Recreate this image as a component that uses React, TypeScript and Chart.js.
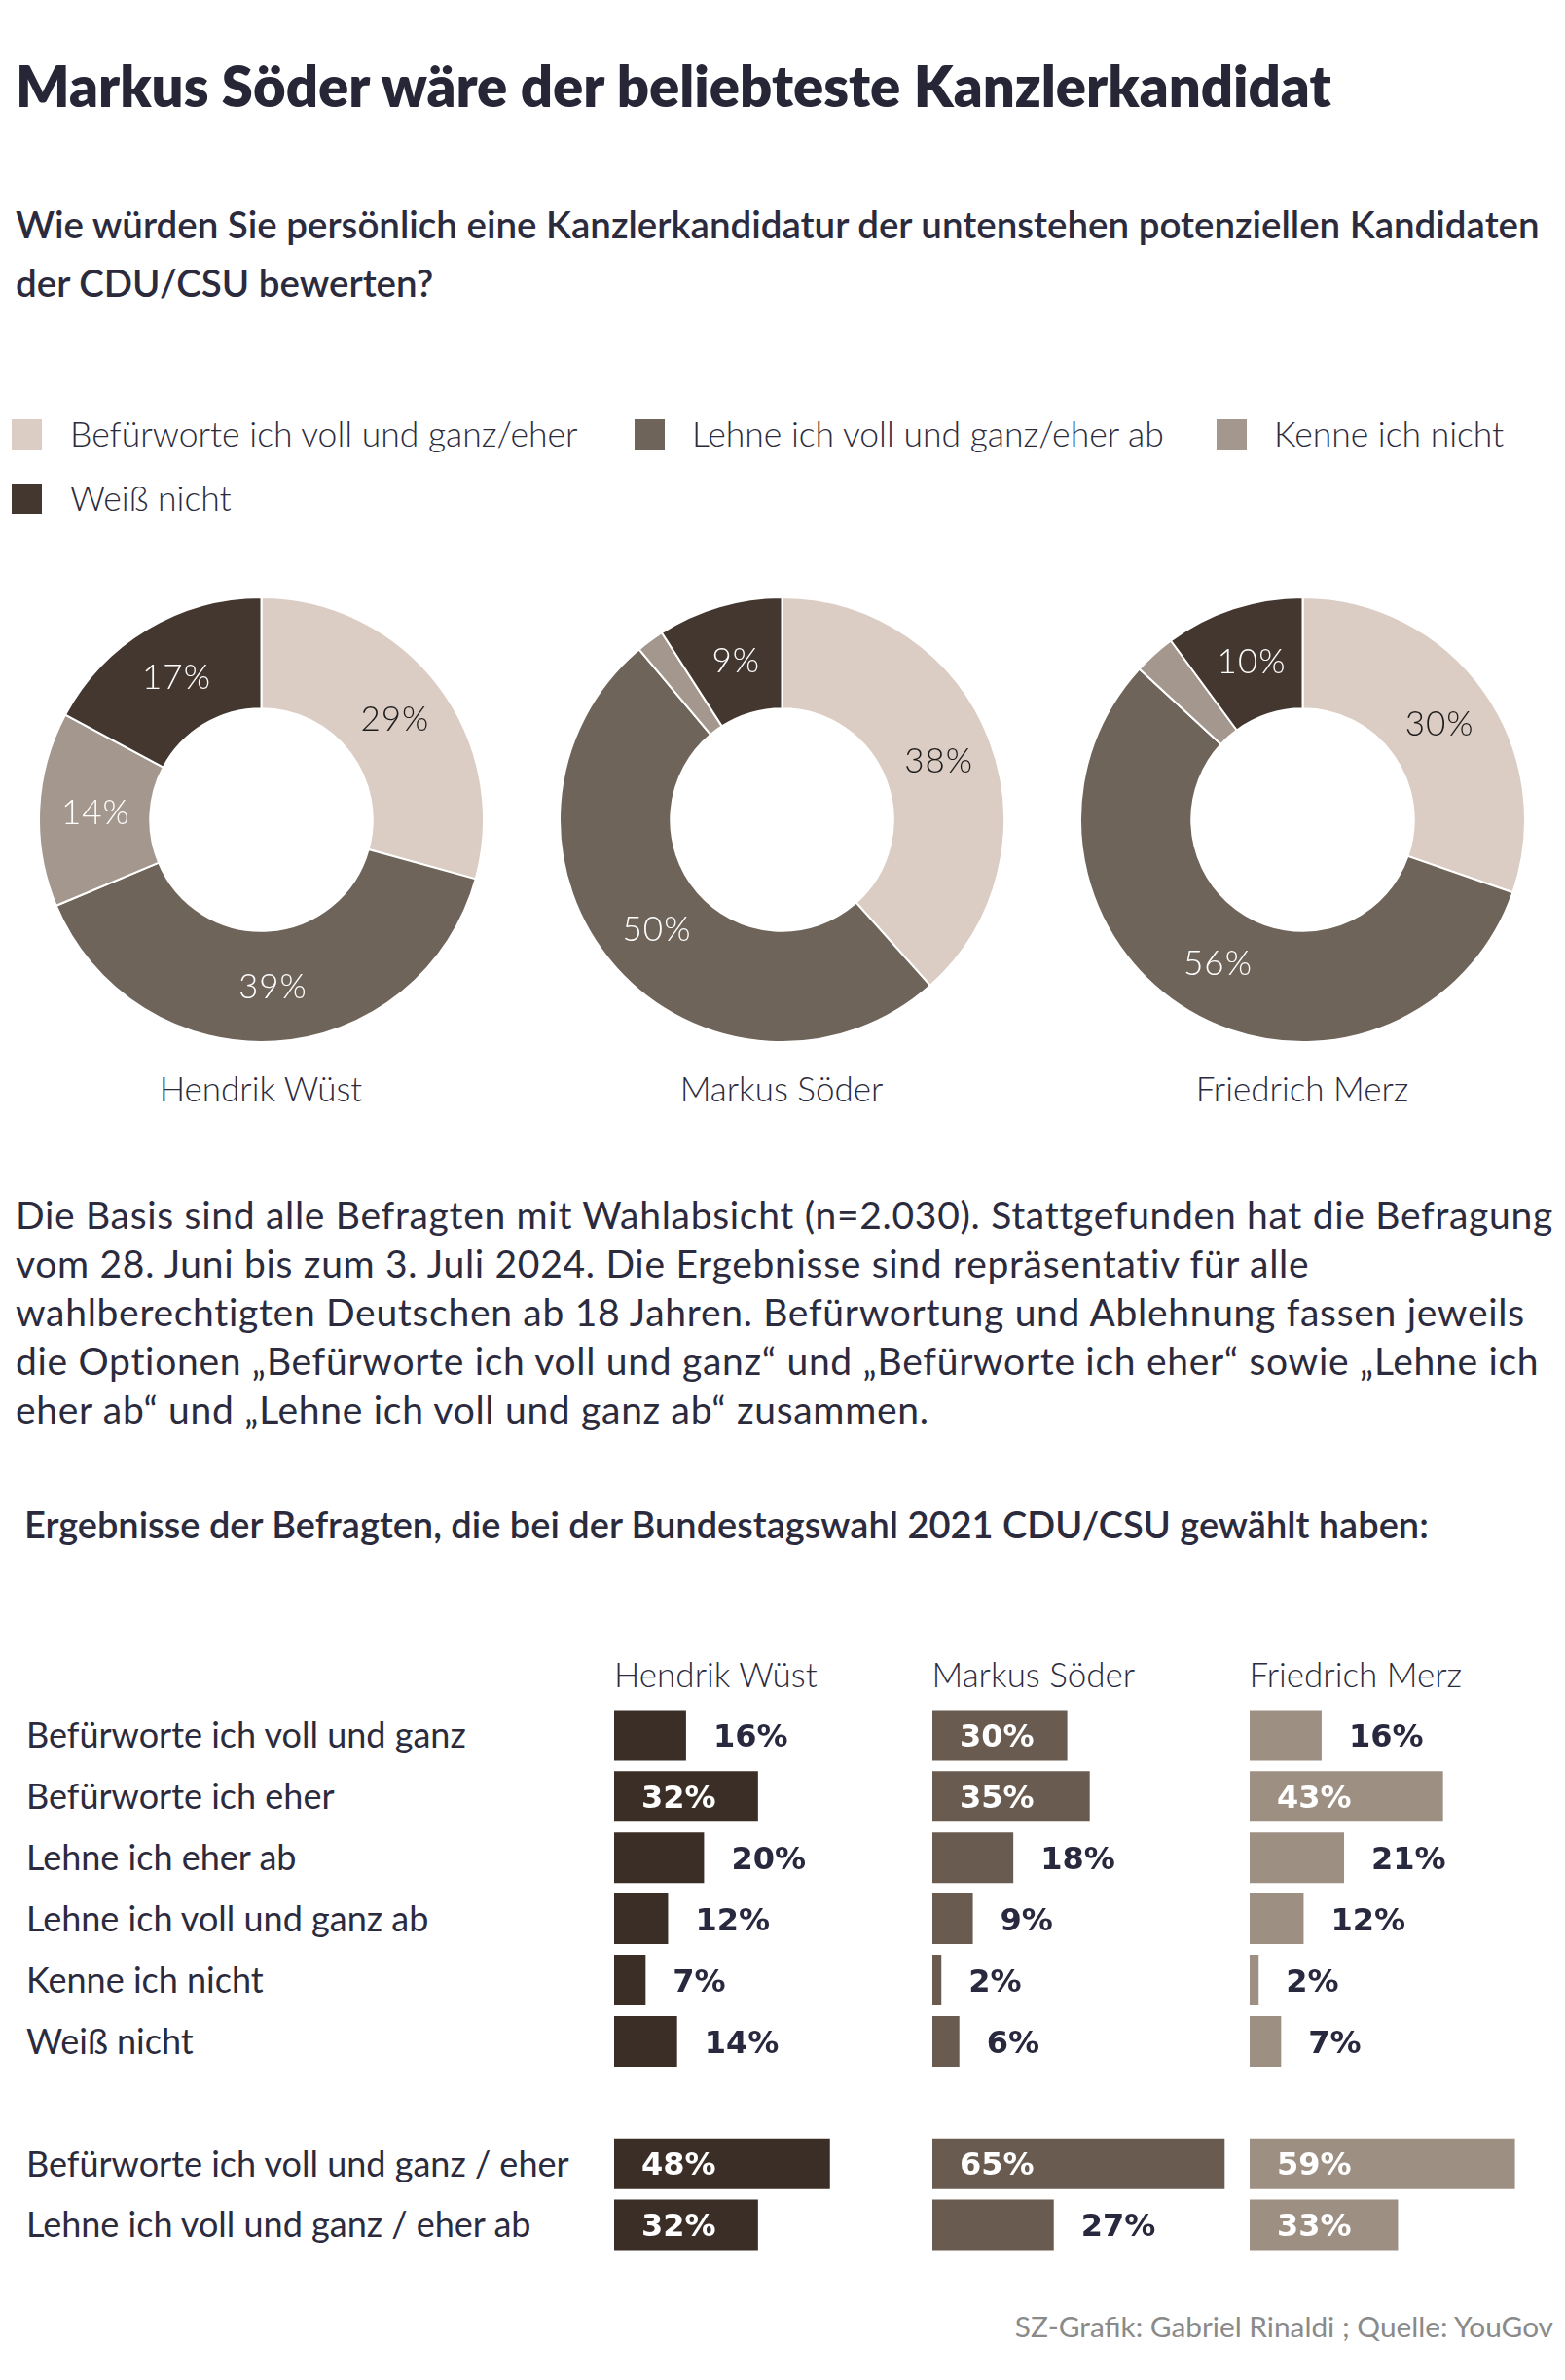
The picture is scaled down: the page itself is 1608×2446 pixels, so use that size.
import React, { useEffect, useRef } from "react";
import { Chart, registerables } from "chart.js";

Chart.register(...registerables);

// ---------- data ----------
const candidates = ["Hendrik Wüst", "Markus Söder", "Friedrich Merz"];
const legendLabels = [
  "Befürworte ich voll und ganz/eher",
  "Lehne ich voll und ganz/eher ab",
  "Kenne ich nicht",
  "Weiß nicht",
];
const donutColors = ["#dbcdc3", "#6f645a", "#a4978d", "#433730"];
const wuestDonut = [29, 39, 14, 17];
const soederDonut = [38, 50, 2, 9];
const merzDonut = [30, 56, 3, 10];

const barRowLabels = [
  "Befürworte ich voll und ganz",
  "Befürworte ich eher",
  "Lehne ich eher ab",
  "Lehne ich voll und ganz ab",
  "Kenne ich nicht",
  "Weiß nicht",
  "",
  "Befürworte ich voll und ganz / eher",
  "Lehne ich voll und ganz / eher ab",
];
const wuestBars = [16, 32, 20, 12, 7, 14, null, 48, 32];
const soederBars = [30, 35, 18, 9, 2, 6, null, 65, 27];
const merzBars = [16, 43, 21, 12, 2, 7, null, 59, 33];
const barColors = ["#3a2e26", "#695b4f", "#9e8f83"];

const paragraphLines = [
  "Die Basis sind alle Befragten mit Wahlabsicht (n=2.030). Stattgefunden hat die Befragung",
  "vom 28. Juni bis zum 3. Juli 2024. Die Ergebnisse sind repräsentativ für alle",
  "wahlberechtigten Deutschen ab 18 Jahren. Befürwortung und Ablehnung fassen jeweils",
  "die Optionen „Befürworte ich voll und ganz“ und „Befürworte ich eher“ sowie „Lehne ich",
  "eher ab“ und „Lehne ich voll und ganz ab“ zusammen.",
];

// ---------- layout constants ----------
const TEXT = "#2b2b3d";
const DONUT_CX = [268, 803, 1338];
const DONUT_CY = 842;
const DONUT_SIZE = 459;
const BAR_COL_X = [631, 957.5, 1283.5];
const ROW_H = 62.9;
const ROW0 = 1783.3;
const BAR_W = 324;
const PX_PER_PCT = 4.62;
const INSIDE_MIN = 28;

const donutLabelPlugin = {
  id: "donutLabels",
  afterDatasetsDraw(chart: any) {
    const ctx = chart.ctx;
    const meta = chart.getDatasetMeta(0);
    const data = chart.data.datasets[0].data as number[];
    ctx.save();
    ctx.font = "300 35px Lato";
    try { (ctx as any).letterSpacing = "1px"; } catch (e) {}
    ctx.textAlign = "center";
    ctx.textBaseline = "alphabetic";
    meta.data.forEach((arc: any, i: number) => {
      const v = data[i];
      if (v < 5) return;
      const p = arc.getProps(["x", "y", "startAngle", "endAngle", "innerRadius", "outerRadius"], true);
      const a = (p.startAngle + p.endAngle) / 2;
      const r = (p.innerRadius + p.outerRadius) / 2;
      ctx.fillStyle = i === 0 ? "#1c1c1c" : "#ffffff";
      ctx.fillText(v + "%", p.x + Math.cos(a) * r + 1, p.y + Math.sin(a) * r + 12.5);
    });
    ctx.restore();
  },
};

const barLabelPlugin = {
  id: "barLabels",
  afterDatasetsDraw(chart: any) {
    const ctx = chart.ctx;
    const meta = chart.getDatasetMeta(0);
    const data = chart.data.datasets[0].data as (number | null)[];
    ctx.save();
    ctx.font = "bold 32px 'DejaVu Sans'";
    ctx.textAlign = "left";
    ctx.textBaseline = "alphabetic";
    meta.data.forEach((bar: any, i: number) => {
      const v = data[i];
      if (v == null) return;
      const p = bar.getProps(["x", "y", "base"], true);
      const inside = v >= INSIDE_MIN;
      ctx.fillStyle = inside ? "#ffffff" : "#28283e";
      ctx.fillText(v + "%", inside ? p.base + 28 : p.x + 28, p.y + 11.7);
    });
    ctx.restore();
  },
};

function Donut({ values }: { values: number[] }) {
  const ref = useRef<HTMLCanvasElement>(null);
  useEffect(() => {
    const chart = new Chart(ref.current!, {
      type: "doughnut",
      data: {
        labels: legendLabels,
        datasets: [
          {
            data: values,
            backgroundColor: donutColors,
            borderColor: "#ffffff",
            borderWidth: 2,
            hoverOffset: 0,
          },
        ],
      },
      options: {
        animation: false,
        responsive: false,
        cutout: "50%",
        layout: { padding: 0 },
        events: [],
        plugins: { legend: { display: false }, tooltip: { enabled: false } },
      },
      plugins: [donutLabelPlugin],
    });
    return () => chart.destroy();
  }, [values]);
  return <canvas ref={ref} width={DONUT_SIZE} height={DONUT_SIZE} style={{ width: DONUT_SIZE, height: DONUT_SIZE }} />;
}

function BarColumn({ values, color }: { values: (number | null)[]; color: string }) {
  const ref = useRef<HTMLCanvasElement>(null);
  useEffect(() => {
    const chart = new Chart(ref.current!, {
      type: "bar",
      data: {
        labels: barRowLabels,
        datasets: [
          {
            data: values as any,
            backgroundColor: color,
            barPercentage: 0.827,
            categoryPercentage: 1,
            borderWidth: 0,
          },
        ],
      },
      options: {
        indexAxis: "y",
        animation: false,
        responsive: false,
        layout: { padding: 0 },
        events: [],
        plugins: { legend: { display: false }, tooltip: { enabled: false } },
        scales: {
          x: { display: false, min: 0, max: BAR_W / PX_PER_PCT },
          y: { display: false },
        },
      },
      plugins: [barLabelPlugin],
    });
    return () => chart.destroy();
  }, [values, color]);
  const h = ROW_H * barRowLabels.length;
  return <canvas ref={ref} width={BAR_W} height={Math.round(h)} style={{ width: BAR_W, height: Math.round(h) }} />;
}

type TxtProps = {
  x: number;
  cy: number;
  size: number;
  weight?: number;
  family?: string;
  color?: string;
  ls?: number;
  align?: "left" | "center" | "right";
  children: React.ReactNode;
};

function Txt({ x, cy, size, weight = 400, family = "Lato", color = TEXT, ls = 0, align = "left", children }: TxtProps) {
  const style: React.CSSProperties = {
    position: "absolute",
    top: cy - 0.53 * size,
    lineHeight: size + "px",
    fontSize: size,
    fontWeight: weight,
    fontFamily: family,
    color,
    letterSpacing: ls,
    whiteSpace: "nowrap",
  };
  if (align === "left") style.left = x;
  else if (align === "right") style.right = 1608 - x;
  else {
    style.left = x;
    style.transform = "translateX(-50%)";
  }
  return <div style={style}>{children}</div>;
}

export default function App() {
  const legendPos = [
    { sx: 12, tx: 72, cy: 446.5 },
    { sx: 652, tx: 711, cy: 446.5 },
    { sx: 1250, tx: 1309, cy: 446.5 },
    { sx: 12, tx: 72, cy: 512.5 },
  ];
  const donutData = [wuestDonut, soederDonut, merzDonut];
  const barData = [wuestBars, soederBars, merzBars];
  const barTop = ROW0 - ROW_H / 2;
  return (
    <div style={{ position: "relative", width: 1608, height: 2446, background: "#ffffff", overflow: "hidden" }}>
      <style>{"body{margin:0}"}</style>
      <Txt x={16} cy={90} size={58} weight={800} color="#262637" ls={0}>
        Markus Söder wäre der beliebteste Kanzlerkandidat
      </Txt>
      <Txt x={16} cy={231.5} size={38.5} weight={600}>
        Wie würden Sie persönlich eine Kanzlerkandidatur der untenstehen potenziellen Kandidaten
      </Txt>
      <Txt x={16} cy={291.5} size={38.5} weight={600}>
        der CDU/CSU bewerten?
      </Txt>

      {legendLabels.map((l, i) => (
        <React.Fragment key={l}>
          <div
            style={{
              position: "absolute",
              left: legendPos[i].sx,
              top: legendPos[i].cy - 15.5,
              width: 31,
              height: 31,
              background: donutColors[i],
            }}
          />
          <Txt x={legendPos[i].tx} cy={legendPos[i].cy} size={35.5} weight={300}>
            {l}
          </Txt>
        </React.Fragment>
      ))}

      {donutData.map((d, i) => (
        <div
          key={candidates[i]}
          style={{ position: "absolute", left: DONUT_CX[i] - DONUT_SIZE / 2, top: DONUT_CY - DONUT_SIZE / 2 }}
        >
          <Donut values={d} />
        </div>
      ))}
      {candidates.map((c, i) => (
        <Txt key={c} x={DONUT_CX[i]} cy={1120} size={35} weight={300} align="center">
          {c}
        </Txt>
      ))}

      {paragraphLines.map((l, i) => (
        <Txt key={i} x={16} cy={1250 + 49.8 * i} size={39} ls={0.7}>
          {l}
        </Txt>
      ))}

      <Txt x={25} cy={1567} size={38} weight={600}>
        Ergebnisse der Befragten, die bei der Bundestagswahl 2021 CDU/CSU gewählt haben:
      </Txt>

      {candidates.map((c, i) => (
        <Txt key={c} x={BAR_COL_X[i]} cy={1722} size={35} weight={300}>
          {c}
        </Txt>
      ))}
      {barRowLabels.map((l, i) =>
        l ? (
          <Txt key={i} x={27} cy={ROW0 + ROW_H * i} size={36} weight={400}>
            {l}
          </Txt>
        ) : null
      )}
      {barData.map((d, i) => (
        <div key={i} style={{ position: "absolute", left: BAR_COL_X[i], top: barTop }}>
          <BarColumn values={d} color={barColors[i]} />
        </div>
      ))}

      <Txt x={1596} cy={2392} size={29.8} color="#8a8a8a" align="right">
        SZ-Grafik: Gabriel Rinaldi ; Quelle: YouGov
      </Txt>
    </div>
  );
}
